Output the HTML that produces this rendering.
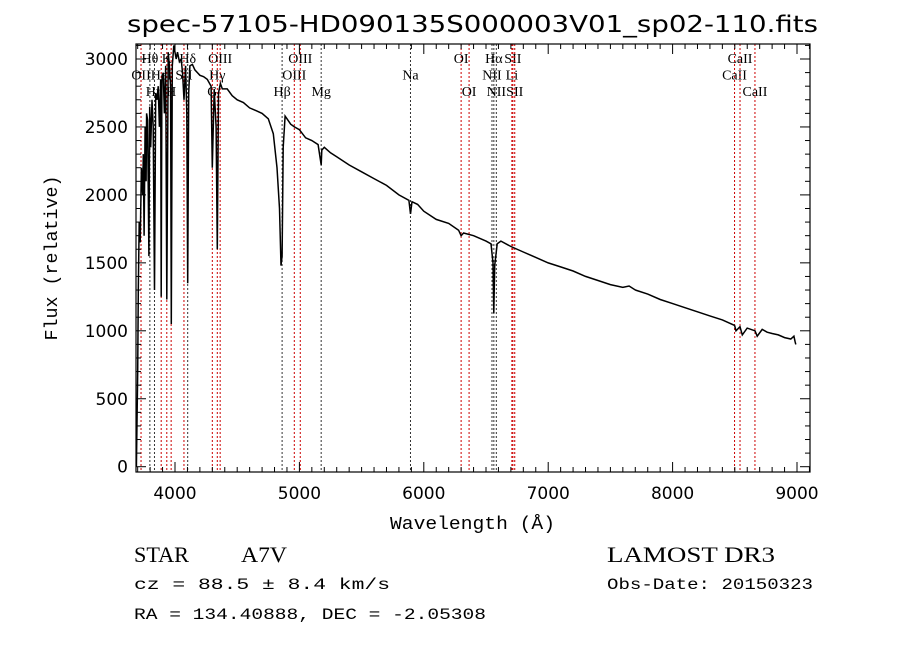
<!DOCTYPE html>
<html><head><meta charset="utf-8"><style>
body{margin:0;background:#fff;width:900px;height:649px;overflow:hidden}
svg{display:block}
.t{font-family:"DejaVu Sans","Liberation Sans",sans-serif}
.s{font-family:"Liberation Serif",serif}
.m{font-family:"Liberation Mono",monospace}
</style></head><body>
<svg id="c" width="900" height="649" xmlns="http://www.w3.org/2000/svg">
<text class="t" x="127" y="32" font-size="23" textLength="691" lengthAdjust="spacingAndGlyphs">spec-57105-HD090135S000003V01_sp02-110.fits</text>
<text class="m" x="390" y="529" font-size="18" textLength="165" lengthAdjust="spacingAndGlyphs">Wavelength (Å)</text>
<text class="m" x="0" y="0" font-size="18" text-anchor="middle" textLength="165" lengthAdjust="spacingAndGlyphs" transform="translate(57,258) rotate(-90)">Flux (relative)</text>
<text class="s" x="134" y="562" font-size="22" textLength="55" lengthAdjust="spacingAndGlyphs">STAR</text>
<text class="s" x="241" y="562" font-size="22" textLength="46" lengthAdjust="spacingAndGlyphs">A7V</text>
<text class="s" x="607" y="562" font-size="22" textLength="168" lengthAdjust="spacingAndGlyphs">LAMOST DR3</text>
<text class="m" x="134" y="589" font-size="16" textLength="256" lengthAdjust="spacingAndGlyphs">cz = 88.5 ± 8.4 km/s</text>
<text class="m" x="607" y="589" font-size="16" textLength="206" lengthAdjust="spacingAndGlyphs">Obs-Date: 20150323</text>
<text class="m" x="134" y="619" font-size="16" textLength="352" lengthAdjust="spacingAndGlyphs">RA = 134.40888, DEC =  -2.05308</text>
</svg>
<script>
const wave=[3690,3700,3705,3712,3720,3730,3740,3745,3752,3760,3768,3772,3780,3790,3797,3805,3815,3825,3835,3845,3855,3865,3875,3885,3889,3895,3905,3915,3925,3934,3945,3955,3965,3970,3978,3990,4000,4010,4020,4035,4050,4060,4072,4085,4095,4102,4110,4120,4140,4160,4180,4200,4230,4260,4290,4300,4315,4330,4340,4350,4365,4380,4420,4460,4500,4550,4600,4650,4700,4750,4790,4820,4840,4852,4861,4870,4885,4900,4930,4960,5000,5050,5100,5150,5175,5180,5200,5250,5300,5400,5500,5600,5700,5800,5880,5893,5905,5950,6000,6100,6200,6280,6300,6320,6400,6500,6540,6556,6563,6570,6590,6620,6700,6800,6900,7000,7100,7200,7300,7400,7500,7600,7650,7700,7800,7900,8000,8100,8200,8300,8400,8498,8510,8542,8560,8600,8662,8680,8720,8760,8800,8850,8900,8950,8975,8985,8990];
const flux=[0,700,1300,1800,1650,2200,2000,2300,1700,2500,2100,2600,2550,1550,2650,2350,2700,2500,1300,2750,2700,2800,2500,2850,1250,2850,2900,2600,2950,1230,3050,2950,2800,1050,2950,3100,3050,3000,3050,2980,3000,2900,2700,2950,2600,1350,2750,2950,2960,2920,2900,2880,2870,2850,2800,2200,2780,2500,1600,2750,2820,2780,2780,2730,2700,2680,2640,2620,2600,2560,2450,2200,1900,1480,1550,2350,2580,2560,2520,2500,2480,2420,2400,2370,2220,2330,2350,2310,2280,2220,2170,2120,2070,2000,1960,1860,1950,1930,1880,1820,1790,1740,1700,1720,1700,1660,1640,1500,1130,1480,1640,1660,1620,1580,1540,1500,1470,1440,1400,1370,1340,1320,1330,1300,1270,1230,1200,1170,1140,1110,1080,1040,1000,1030,970,1020,1000,960,1010,990,980,970,950,940,960,920,900,0];
const ticksX=[4000,5000,6000,7000,8000,9000];
const ticksY=[0,500,1000,1500,2000,2500,3000];
const lineWave=[3727,3798,3835,3889,3934,3969,4072,4102,4300,4340,4363,4861,4959,5007,5175,5893,6300,6364,6548,6563,6583,6708,6716,6731,8498,8542,8662];
const lineName=["OII","Hθ","Hη","HeI","K","H","SII","Hδ","G","Hγ","OIII","Hβ","OIII","OIII","Mg","Na","OI","OI","NII","Hα","NII","Li","SII","SII","CaII","CaII","CaII"];
const lineRow=[1,0,2,1,0,2,1,0,2,1,0,2,1,0,2,1,0,2,1,0,2,1,0,2,1,0,2];
const lineBlack=[0,1,1,0,0,0,0,1,0,0,0,1,0,0,1,1,0,0,1,1,1,0,0,0,0,0,0];
const L=136,R=810,T=44,B=472;
const x=w=>175+(w-4000)*0.1244;
const y=f=>466.7-f*0.1359;
const svg=document.getElementById('c');
const NS='http://www.w3.org/2000/svg';
function mk(tag,at){const e=document.createElementNS(NS,tag);for(const k in at)e.setAttribute(k,at[k]);svg.appendChild(e);return e;}
lineWave.forEach((w,i)=>{
 const l=mk('line',{x1:x(w),x2:x(w),y1:T,y2:B,stroke:lineBlack[i]?'#333':'#c00','stroke-width':1,'stroke-dasharray':'2,2'});
 
 
 const t=mk('text',{x:x(w),y:63+lineRow[i]*16.5,'font-size':14,'text-anchor':'middle',class:'s'});
 t.textContent=lineName[i];
 
 
});
const p=mk('polyline',{points:wave.map((w,i)=>x(w).toFixed(1)+','+Math.max(T,y(flux[i])).toFixed(1)).join(' '),fill:'none',stroke:'#000','stroke-width':1.5});


const fr=mk('rect',{x:L,y:T,width:R-L,height:B-T,fill:'none',stroke:'#000','stroke-width':1.2});


for(let w=3700;w<=9100;w+=100){const maj=w%1000===0;const len=maj?10:5;
 mk('line',{x1:x(w),x2:x(w),y1:B,y2:B-len,stroke:'#000'});mk('line',{x1:x(w),x2:x(w),y1:T,y2:T+len,stroke:'#000'});}
for(let f=0;f<=3100;f+=100){const maj=f%500===0;const len=maj?10:5;
 mk('line',{x1:L,x2:L+len,y1:y(f),y2:y(f),stroke:'#000'});mk('line',{x1:R,x2:R-len,y1:y(f),y2:y(f),stroke:'#000'});}
ticksX.forEach(v=>{const t=mk('text',{x:x(v),y:499,'font-size':17,'text-anchor':'middle',class:'t'});t.textContent=v;
 
 });
ticksY.forEach(v=>{const t=mk('text',{x:128,y:y(v)+6,'font-size':17,'text-anchor':'end',class:'t'});t.textContent=v;
 
 });
</script>
</body></html>
